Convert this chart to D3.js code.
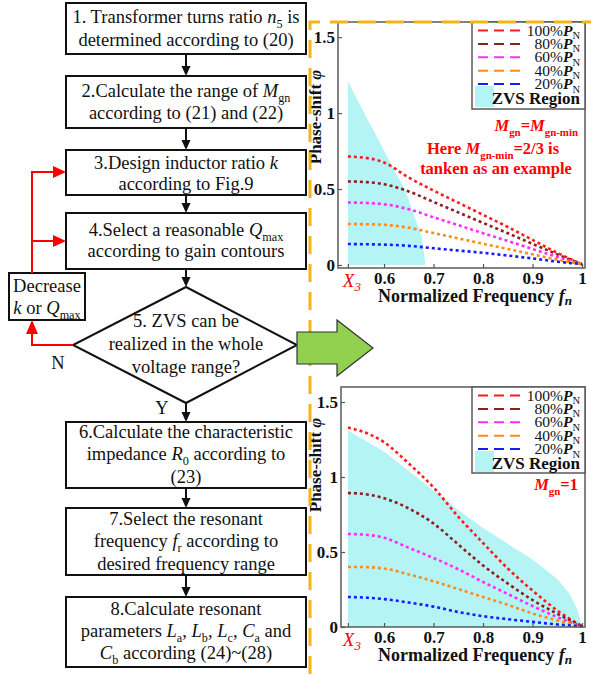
<!DOCTYPE html>
<html>
<head>
<meta charset="utf-8">
<script src="https://cdn.jsdelivr.net/npm/d3@7"></script>
<style>
body { margin: 0; background: #fff; }
svg { display: block; }
text { font-family: "Liberation Serif", "DejaVu Serif", serif; }
</style>
</head>
<body>
<svg id="fig" width="591" height="678" font-family="Liberation Serif, DejaVu Serif, serif"></svg>
<script>
// ------------- DATA ------------- //
var X3 = 0.527;
var fnGrid = [X3, 0.55, 0.6, 0.65, 0.7, 0.75, 0.8, 0.85, 0.9, 0.95, 1.0];
var loadNames = ["100%", "80%", "60%", "40%", "20%"];
var loadColors = ["#ff1a1a", "#8e1f1f", "#ff2bff", "#ff8c1a", "#1a1aff"];
var xTicks = [0.6, 0.7, 0.8, 0.9, 1];
var yTicks = [0, 0.5, 1, 1.5];

// Mgn = Mgn-min = 2/3 (top chart)
var phiA100 = [0.714, 0.71, 0.675, 0.575, 0.49, 0.41, 0.33, 0.25, 0.165, 0.08, 0.005];
var phiA80 = [0.55, 0.548, 0.532, 0.484, 0.415, 0.346, 0.277, 0.209, 0.139, 0.07, 0.005];
var phiA60 = [0.411, 0.41, 0.40, 0.367, 0.314, 0.262, 0.209, 0.158, 0.105, 0.053, 0.005];
var phiA40 = [0.27, 0.269, 0.265, 0.245, 0.21, 0.175, 0.14, 0.105, 0.07, 0.035, 0.005];
var phiA20 = [0.138, 0.137, 0.134, 0.126, 0.11, 0.095, 0.08, 0.062, 0.043, 0.022, 0.005];
var zvsAfn = [X3, 0.552, 0.578, 0.602, 0.622, 0.642, 0.652, 0.669, 0.676, 0.683, 0.683];
var zvsAphi = [1.21, 1.05, 0.89, 0.74, 0.615, 0.5, 0.41, 0.25, 0.19, 0.02, 0];

// Mgn = 1 (bottom chart)
var phiB100 = [1.33, 1.31, 1.232, 1.09, 0.93, 0.735, 0.56, 0.39, 0.243, 0.11, 0.005];
var phiB80 = [0.893, 0.89, 0.858, 0.79, 0.69, 0.55, 0.41, 0.29, 0.18, 0.088, 0.005];
var phiB60 = [0.62, 0.618, 0.595, 0.528, 0.46, 0.385, 0.3, 0.22, 0.14, 0.066, 0.005];
var phiB40 = [0.40, 0.40, 0.39, 0.35, 0.305, 0.253, 0.2, 0.148, 0.09, 0.044, 0.005];
var phiB20 = [0.2, 0.198, 0.186, 0.163, 0.136, 0.1, 0.072, 0.052, 0.034, 0.017, 0.005];
var zvsBfn = [X3, 0.55, 0.6, 0.65, 0.7, 0.75, 0.8, 0.85, 0.9, 0.95, 0.975, 0.99, 1.0];
var zvsBphi = [1.31, 1.265, 1.17, 1.04, 0.91, 0.78, 0.66, 0.555, 0.45, 0.32, 0.22, 0.12, 0.005];

var svg = d3.select("#fig");
var SERIF = "Liberation Serif, DejaVu Serif, serif";
var FS = 18.5; // flowchart font size

// ------------- RICH TEXT: *italic*  _subscript_ ------------- //
function rich(sel, str, size) {
  var parts = str.split(/(\*[^*]+\*|_[^_]+_)/).filter(function(p) { return p.length; });
  var shift = 0;
  var sub = size * 0.28;
  parts.forEach(function(p) {
    var t = sel.append("tspan");
    if (p[0] == "*") {
      t.text(p.slice(1, -1)).attr("font-style", "italic");
      if (shift) { t.attr("dy", -shift); shift = 0; }
    } else if (p[0] == "_") {
      t.text(p.slice(1, -1)).attr("font-size", size * 0.66).attr("dy", sub - shift);
      shift = sub;
    } else {
      t.text(p);
      if (shift) { t.attr("dy", -shift); shift = 0; }
    }
  });
}

// ------------- FLOWCHART ------------- //
var flow = svg.append("g");
var cx = 186;
var boxes = [
  { y: 3, h: 51, lines: ["1. Transformer turns ratio *n*_5_ is", "determined according to (20)"], base: [23, 45.5] },
  { y: 76, h: 52, lines: ["2.Calculate the range of *M*_gn_", "according to (21) and (22)"], base: [97, 118.5] },
  { y: 150, h: 45, lines: ["3.Design inductor ratio *k*", "according to Fig.9"], base: [169, 190] },
  { y: 213, h: 56, lines: ["4.Select a reasonable *Q*_max_", "according to gain contours"], base: [236, 257] },
  { y: 422, h: 66, lines: ["6.Calculate the characteristic", "impedance *R*_0_ according to", "(23)"], base: [438, 460, 483] },
  { y: 508, h: 67, lines: ["7.Select the resonant", "frequency *f*_r_ according to", "desired frequency range"], base: [525, 547, 570] },
  { y: 597, h: 70, lines: ["8.Calculate resonant", "parameters *L*_a_, *L*_b_, *L*_c_, *C*_a_ and", "*C*_b_ according (24)~(28)"], base: [615, 637, 659] }
];

boxes.forEach(function(b) {
  flow.append("rect").attr("x", 66).attr("y", b.y).attr("width", 240).attr("height", b.h)
    .attr("fill", "#fff").attr("stroke", "#111").attr("stroke-width", 2);
  b.lines.forEach(function(l, i) {
    var t = flow.append("text").attr("x", cx).attr("y", b.base[i]).attr("text-anchor", "middle")
      .attr("font-family", SERIF).attr("font-size", FS).attr("fill", "#111");
    rich(t, l, FS);
  });
});

// diamond
flow.append("path").attr("d", "M186,287 L297,345 L186,403 L73,345 Z")
  .attr("fill", "#fff").attr("stroke", "#111").attr("stroke-width", 2);
[["5. ZVS can be", 327], ["realized in the whole", 350], ["voltage range?", 373]].forEach(function(d) {
  flow.append("text").attr("x", cx).attr("y", d[1]).attr("text-anchor", "middle")
    .attr("font-family", SERIF).attr("font-size", FS).attr("fill", "#111").text(d[0]);
});

// decrease box
flow.append("rect").attr("x", 9).attr("y", 273).attr("width", 76).attr("height", 47)
  .attr("fill", "#fff").attr("stroke", "#111").attr("stroke-width", 2);
[["Decrease", 292], ["*k* or *Q*_max_", 314]].forEach(function(d) {
  var t = flow.append("text").attr("x", 47).attr("y", d[1]).attr("text-anchor", "middle")
    .attr("font-family", SERIF).attr("font-size", FS).attr("fill", "#111");
  rich(t, d[0], FS);
});

// black arrows
function arrowDown(x, y1, y2) {
  flow.append("line").attr("x1", x).attr("x2", x).attr("y1", y1).attr("y2", y2 - 8)
    .attr("stroke", "#111").attr("stroke-width", 2);
  flow.append("path").attr("d", "M" + (x - 4.5) + "," + (y2 - 10) + " L" + (x + 4.5) + "," + (y2 - 10) + " L" + x + "," + y2 + " Z")
    .attr("fill", "#111");
}
arrowDown(cx, 54, 76);
arrowDown(cx, 128, 150);
arrowDown(cx, 195, 213);
arrowDown(cx, 269, 287);
arrowDown(cx, 403, 422);
arrowDown(cx, 488, 508);
arrowDown(cx, 575, 597);

// red feedback lines
var red = "#ff0000";
flow.append("path").attr("d", "M32,273 V172 H54 M32,241 H54 M73,345 H32 V333")
  .attr("fill", "none").attr("stroke", red).attr("stroke-width", 2);
flow.append("path").attr("d", "M53,166 L66,172 L53,178 Z").attr("fill", red);
flow.append("path").attr("d", "M53,235 L66,241 L53,247 Z").attr("fill", red);
flow.append("path").attr("d", "M26,334 L32,320 L38,334 Z").attr("fill", red);

flow.append("text").attr("x", 58).attr("y", 369).attr("text-anchor", "middle").attr("font-family", SERIF)
  .attr("font-size", FS).attr("fill", "#111").text("N");
flow.append("text").attr("x", 162).attr("y", 414).attr("text-anchor", "middle").attr("font-family", SERIF)
  .attr("font-size", FS).attr("fill", "#111").text("Y");

// ------------- CHARTS ------------- //
function drawChart(c) {
  var g = svg.append("g");
  var x = d3.scaleLinear().domain(c.xDomain).range([c.x0, c.x1]);
  var y = d3.scaleLinear().domain(c.yDomain).range([c.y1, c.y0]);

  // ZVS region
  var area = d3.area().x(function(d) { return x(d[0]); }).y0(y(0)).y1(function(d) { return y(d[1]); });
  g.append("path").datum(d3.zip(c.zvsFn, c.zvsPhi)).attr("d", area).attr("fill", "#b4f4f4");

  // curves
  var line = d3.line().x(function(d) { return x(d[0]); }).y(function(d) { return y(d[1]); }).curve(d3.curveMonotoneX);
  c.series.forEach(function(s, i) {
    g.append("path").datum(d3.zip(fnGrid, s)).attr("d", line)
      .attr("fill", "none").attr("stroke", loadColors[i]).attr("stroke-width", 2.6)
      .attr("stroke-dasharray", "3,3");
  });

  // axes
  var ya = g.append("g").attr("transform", "translate(" + c.x0 + ",0)")
    .call(d3.axisLeft(y).tickValues(yTicks).tickSize(-4).tickPadding(3).tickFormat(function(d) { return d; }));
  var xa = g.append("g").attr("transform", "translate(0," + c.y1 + ")")
    .call(d3.axisBottom(x).tickValues([X3].concat(xTicks)).tickSize(-4).tickPadding(6)
      .tickFormat(function(d) { return d == X3 ? "" : d; }));
  [ya, xa].forEach(function(a) {
    a.attr("font-family", SERIF);
    a.select(".domain").remove();
    a.selectAll("line").attr("stroke", "#555").attr("stroke-width", 1.2);
    a.selectAll("text").attr("font-family", SERIF).attr("font-weight", "bold")
      .attr("font-size", 17).attr("fill", "#111");
  });
  xa.selectAll("text").attr("dy", "0.6em");

  // X3 label
  var xl = g.append("text").attr("x", x(X3) + 4).attr("y", c.y1 + 19).attr("text-anchor", "middle")
    .attr("font-family", SERIF).attr("font-size", 19).attr("fill", red).attr("font-style", "italic");
  xl.append("tspan").text("X");
  xl.append("tspan").text("3").attr("font-size", 13).attr("dy", 4);

  // frame
  g.append("rect").attr("x", c.x0).attr("y", c.y0).attr("width", c.x1 - c.x0).attr("height", c.y1 - c.y0)
    .attr("fill", "none").attr("stroke", "#5a5a5a").attr("stroke-width", 1.5);

  // axis titles
  var xt = g.append("text").attr("x", 475).attr("y", c.y1 + 34).attr("text-anchor", "middle")
    .attr("font-family", SERIF).attr("font-size", 18).attr("font-weight", "bold").attr("fill", "#111");
  xt.append("tspan").text("Normalized Frequency ");
  xt.append("tspan").text("f").attr("font-style", "italic");
  xt.append("tspan").text("n").attr("font-style", "italic").attr("font-size", 13).attr("dy", 3);
  var yt = g.append("text").attr("transform", "translate(" + 321 + "," + c.yLabel + ") rotate(-90)")
    .attr("text-anchor", "middle").attr("font-family", SERIF).attr("font-size", 17).attr("font-weight", "bold").attr("fill", "#111");
  yt.append("tspan").text("Phase-shift  ");
  yt.append("tspan").text("φ").attr("font-style", "italic");

  // legend
  var L = g.append("g");
  var lx0 = 472, ly0 = c.y0;
  L.append("rect").attr("x", lx0).attr("y", ly0).attr("width", c.x1 - lx0).attr("height", c.legendH)
    .attr("fill", "#fff").attr("stroke", "#5a5a5a").attr("stroke-width", 1.5);
  loadNames.forEach(function(n, i) {
    var ry = ly0 + 8.5 + i * 13.4;
    L.append("line").attr("x1", 478).attr("x2", 521).attr("y1", ry).attr("y2", ry)
      .attr("stroke", loadColors[i]).attr("stroke-width", 2).attr("stroke-dasharray", "10,6");
    var t = L.append("text").attr("x", 580).attr("y", ry + 5).attr("text-anchor", "end")
      .attr("font-family", SERIF).attr("font-size", 15.5).attr("fill", "#111");
    t.append("tspan").text(n);
    t.append("tspan").text("P").attr("font-style", "italic").attr("font-weight", "bold");
    t.append("tspan").text("N").attr("font-size", 10.5).attr("dy", 3.5);
  });
  L.append("rect").attr("x", 475).attr("y", ly0 + 64).attr("width", 19).attr("height", 21).attr("fill", "#b4f4f4");
  L.append("text").attr("x", 580).attr("y", ly0 + 82).attr("text-anchor", "end")
    .attr("font-family", SERIF).attr("font-size", 17).attr("font-weight", "bold").attr("fill", "#111").text("ZVS Region");

  // annotations
  c.notes.forEach(function(n) {
    var t = g.append("text").attr("x", n.x).attr("y", n.y).attr("text-anchor", n.anchor)
      .attr("font-family", SERIF).attr("font-size", 16.5).attr("font-weight", "bold").attr("fill", red);
    rich(t, n.text, 16.5);
  });
}

drawChart({
  x0: 338, x1: 585, y0: 22, y1: 268,
  xDomain: [0.507, 1.006], yDomain: [-0.02, 1.6],
  series: [phiA100, phiA80, phiA60, phiA40, phiA20],
  zvsFn: zvsAfn, zvsPhi: zvsAphi,
  legendH: 87, yLabel: 117,
  notes: [
    { x: 578, y: 131, anchor: "end", text: "*M*_gn_=*M*_gn-min_" },
    { x: 493, y: 154, anchor: "middle", text: "Here *M*_gn-min_=2/3 is" },
    { x: 496, y: 174, anchor: "middle", text: "tanken as an example" }
  ]
});

drawChart({
  x0: 341, x1: 585, y0: 387, y1: 627,
  xDomain: [0.513, 1.006], yDomain: [0, 1.6],
  series: [phiB100, phiB80, phiB60, phiB40, phiB20],
  zvsFn: zvsBfn, zvsPhi: zvsBphi,
  legendH: 86, yLabel: 465,
  notes: [
    { x: 578, y: 490, anchor: "end", text: "*M*_gn_=1" }
  ]
});

// ------------- ORANGE DASHED FRAME + GREEN ARROW ------------- //
svg.append("path").attr("d", "M310,674 V22 H591")
  .attr("fill", "none").attr("stroke", "#f5b414").attr("stroke-width", 3).attr("stroke-dasharray", "18,10");

svg.append("path").attr("d", "M297,332 H337 V320 L373,348 L337,376 V364 H297 Z")
  .attr("fill", "#92d050").attr("stroke", "#333").attr("stroke-width", 1.2);
</script>
</body>
</html>
